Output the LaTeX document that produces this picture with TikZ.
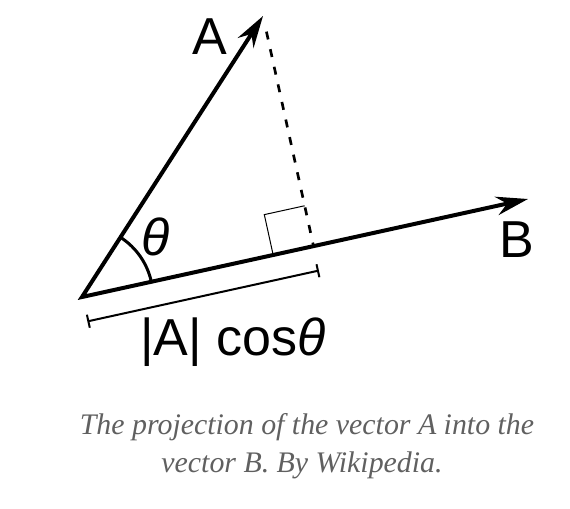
\documentclass[tikz,border=0pt]{standalone}
\usepackage{fontspec}
\setmainfont{Liberation Sans}
\newfontfamily\capfont{Liberation Serif}
\usetikzlibrary{arrows.meta,calc}
\definecolor{capgray}{RGB}{96,96,96}

\begin{document}
\begin{tikzpicture}[x=0.75pt,y=0.75pt,
  vec/.style={line width=3pt,line join=miter,{Stealth[length=24pt,width=14pt,inset=8pt]}-{Stealth[length=24pt,width=14pt,inset=8pt]}},
  proj/.style={line width=2pt,dash pattern=on 6pt off 7.5pt,shorten <=12pt},
  rightang/.style={line width=0.75pt},
  bracket/.style={line width=1.5pt,{Bar[width=10pt]}-{Bar[width=10pt]}},
  lbl/.style={font=\fontsize{39}{39}\selectfont,anchor=base,inner sep=0pt},
  caption/.style={font=\capfont\itshape\fontsize{22.4}{22.4}\selectfont,text=capgray,anchor=base,inner sep=0pt}]
\useasboundingbox (0,0) rectangle (570,508);
% vectors
\coordinate (o) at (82,211);
\coordinate (a) at (263,492);
\coordinate (b) at (528,309);
\coordinate (foot) at ($(o)!(a)!(b)$);
\draw[vec] (a) -- (o) -- (b);
% projection and right angle
\draw[proj] (a) -- (foot);
\coordinate (sq1) at ($(foot)!31pt!(o)$);
\coordinate (sq3) at ($(foot)!31pt!(a)$);
\draw[rightang] (sq1) -- ($(sq1)+(sq3)-(foot)$) -- (sq3);
% angle
\draw[line width=2.25pt] (o) ++(12.4:71) arc[start angle=12.4,end angle=57.2,radius=71];
% length of the projection
\coordinate (br1) at ($(o)!18.75pt!-90:(b)$);
\coordinate (br2) at ($(foot)!18.75pt!90:(o)$);
\draw[bracket] (br1) -- (br2);
\node[lbl] (lblA) at (210,453) {A};
\node[lbl] (lblB) at (517,251) {B};
\node[lbl] (lbltheta) at (156,253) {\textit{θ}};
\node[lbl] (lblcos) at (233,153) {|A| cos\textit{θ}};
\node[caption] (cap1) at (307,74) {The projection of the vector A into the};
\node[caption] (cap2) at (302,36) {vector B. By Wikipedia.};
\end{tikzpicture}
\end{document}
